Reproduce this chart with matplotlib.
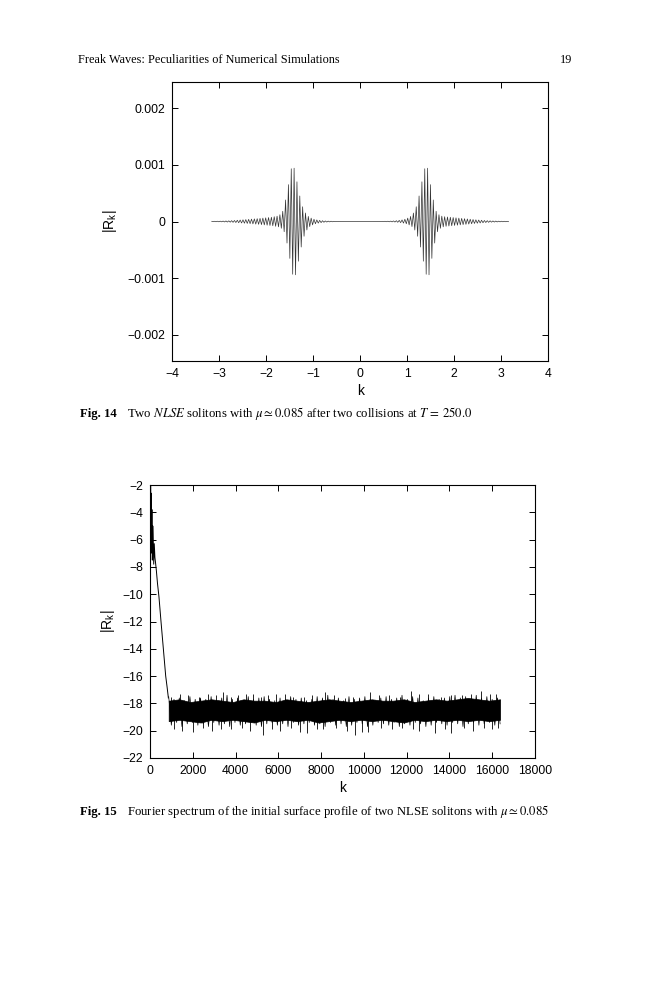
import numpy as np
import matplotlib
matplotlib.use('Agg')
import matplotlib.pyplot as plt
from matplotlib.ticker import FuncFormatter

plt.rcParams['font.family'] = ['Liberation Sans', 'DejaVu Sans']
plt.rcParams['mathtext.fontset'] = 'stix'

# Fig. 14: oscillation amplitude per carrier period (units of 1e-4), left packet / gap / right packet
left_amp = [0.03, 0.04, 0.05, 0.06, 0.08, 0.10, 0.12, 0.15, 0.18, 0.22,
            0.26, 0.30, 0.34, 0.38, 0.42, 0.46, 0.50, 0.55, 0.60, 0.65,
            0.70, 0.75, 0.85, 0.95, 1.2,
            1.8, 3.8, 6.5, 9.3, 9.4,
            7.0, 4.5, 2.6, 1.5, 0.9,
            0.6, 0.4, 0.28, 0.2, 0.14,
            0.1, 0.07, 0.05, 0.03, 0.02]
mid_amp = [0.02, 0.015, 0.01, 0.01, 0.01, 0.01, 0.01, 0.01, 0.01, 0.01, 0.01, 0.01, 0.015, 0.02]
right_amp = [0.02, 0.03, 0.04, 0.05, 0.07, 0.1, 0.14, 0.2, 0.28, 0.4, 0.6, 0.9,
             1.5, 2.6, 4.5, 7.0, 9.3, 9.4,
             6.5, 3.8, 1.8, 1.2, 0.95, 0.85, 0.8, 0.75, 0.7, 0.65, 0.6, 0.55,
             0.5, 0.45, 0.4, 0.35, 0.3, 0.26, 0.22, 0.18, 0.15, 0.12, 0.1, 0.08,
             0.06, 0.05, 0.04, 0.03]
k_min, k_max = -3.14, 3.14

# Fig. 15: initial decay, then noisy floor (solid core, fuzzy edges, spikes)
decline_k = [0, 15, 30, 45, 60, 75, 90, 110, 130, 150, 175, 200, 230, 260, 300, 350, 420, 515, 625, 735, 800, 860]
decline_v = [-2.1, -6.5, -2.0, -7.0, -2.6, -6.8, -3.8, -7.5, -5.0, -6.0, -7.8, -6.3, -7.3, -7.7,
             -8.3, -9.2, -10.2, -12.0, -14.0, -16.0, -16.8, -17.6]
band_k0, band_k1 = 875, 16375
core_hi = [-17.8, -17.7, -17.9, -17.8, -17.7, -17.8, -17.9, -17.7, -17.8, -17.8,
           -17.9, -17.7, -17.8, -17.9, -17.8, -17.7, -17.8, -17.9, -17.8, -17.7,
           -17.8, -17.8, -17.7, -17.9, -17.8, -17.7, -17.8, -17.7, -17.6, -17.7,
           -17.8, -17.7]
core_lo = [-19.3, -19.2, -19.3, -19.4, -19.2, -19.3, -19.2, -19.3, -19.4, -19.2,
           -19.3, -19.2, -19.3, -19.2, -19.4, -19.3, -19.2, -19.3, -19.2, -19.3,
           -19.2, -19.3, -19.4, -19.2, -19.3, -19.2, -19.3, -19.2, -19.3, -19.2,
           -19.3, -19.2]
band_hi = [-17.5, -17.7, -17.6, -17.8, -17.5, -17.7, -17.6, -17.7, -17.5, -17.8,
           -17.6, -17.4, -17.7, -17.6, -17.8, -17.5, -17.7, -17.6, -17.5, -17.7,
           -17.8, -17.6, -17.7, -17.5, -17.7, -17.6, -17.8, -17.7, -17.5, -17.6,
           -17.4, -17.7, -17.6, -17.8, -17.5, -17.7, -17.6, -17.5, -17.7, -17.8,
           -17.6, -17.5, -17.7, -17.6, -17.4, -17.7, -17.5, -17.6, -17.8, -17.6,
           -17.5, -17.7, -17.6, -17.5, -17.4, -17.6, -17.5, -17.7, -17.4, -17.6,
           -17.5, -17.7, -17.6]
band_lo = [-19.6, -19.4, -19.7, -19.5, -19.4, -19.6, -19.5, -19.7, -19.4, -19.6,
           -19.5, -19.7, -19.4, -19.6, -19.5, -19.4, -19.6, -19.7, -19.5, -19.4,
           -19.6, -19.5, -19.7, -19.4, -19.6, -19.5, -19.4, -19.6, -19.5, -19.7,
           -19.4, -19.6, -19.5, -19.7, -19.6, -19.4, -19.5, -19.7, -19.6, -19.4,
           -19.5, -19.6, -19.4, -19.7, -19.5, -19.6, -19.4, -19.5, -19.7, -19.6,
           -19.4, -19.5, -19.6, -19.4, -19.5, -19.7, -19.5, -19.4, -19.6, -19.5,
           -19.4, -19.6, -19.5]
up_k = [1000, 1400, 1800, 2300, 2700, 3100, 3400, 3800, 4100, 4500, 4800, 5200, 5500, 5900, 6300, 6700,
        7200, 7600, 8200, 8600, 9100, 9500, 10300, 10700, 11200, 11700, 12200, 12600, 13000, 13600,
        14100, 14600, 15000, 15500, 15900, 16200]
up_v = [-17.5, -17.3, -17.4, -17.5, -17.3, -17.4, -17.2, -17.5, -17.4, -17.3,
        -17.3, -17.5, -17.4, -17.3, -17.3, -17.5, -17.5, -17.4, -17.2, -17.4,
        -17.6, -17.5, -17.2, -17.4, -17.4, -17.5, -17.1, -17.3, -17.3, -17.5,
        -17.4, -17.4, -17.3, -17.1, -17.3, -17.3]
dn_k = [1100, 1500, 2000, 2500, 2900, 3300, 3800, 4300, 4700, 5300, 5700, 6100, 6600, 7000, 7350, 7800,
        8100, 8700, 9200, 9600, 9900, 10200, 10800, 11300, 11800, 12300, 12600, 13350, 13800, 14100,
        14700, 15130, 15600, 16000, 16300]
dn_v = [-19.9, -20.0, -20.1, -19.8, -20.0, -19.9, -19.9, -19.8, -20.0, -20.3,
        -19.9, -20.0, -19.8, -20.1, -20.2, -19.9, -19.9, -19.8, -20.0, -20.3,
        -20.1, -20.1, -19.8, -19.9, -19.8, -19.9, -20.0, -20.2, -19.9, -20.2,
        -19.8, -20.0, -19.8, -19.9, -19.8]
band_mid = -18.5


def style_axes(ax):
    ax.tick_params(direction='in', top=True, right=True, length=4, width=0.7,
                   labelsize=8.7, pad=5)
    for s in ax.spines.values():
        s.set_linewidth(0.8)


fig = plt.figure(figsize=(6.59, 10), dpi=100)
serif = ['Liberation Serif', 'DejaVu Serif']
cap_size = 9.2

# header
fig.text(0.118, 0.940, 'Freak Waves: Peculiarities of Numerical Simulations',
         family=serif, fontsize=8.8, va='center')
fig.text(0.868, 0.940, '19', family=serif, fontsize=8.8, va='center', ha='right')

# ---- Fig. 14 ----
ax1 = fig.add_axes([0.261, 0.639, 0.571, 0.279])
amp = np.concatenate([left_amp, mid_amp, right_amp]) * 1e-4
centers = np.linspace(k_min, k_max, len(amp))
p = centers[1] - centers[0]
kx = np.column_stack([centers - p / 4, centers + p / 4]).ravel()
ry = np.column_stack([amp, -amp]).ravel()
ax1.plot(kx, ry, color='#333333', lw=0.5)
ax1.set_xlim(-4, 4)
ax1.set_ylim(-0.00246, 0.00246)
ax1.set_xticks(np.arange(-4, 5, 1))
ax1.set_yticks([-0.002, -0.001, 0, 0.001, 0.002])
ax1.yaxis.set_major_formatter(FuncFormatter(lambda v, _: f'{v:g}'.replace('-', '\u2212')))
ax1.set_xlabel('k', fontsize=10, labelpad=3)
ax1.set_ylabel(r'$\mathregular{|R_k|}$', fontsize=10, labelpad=6)
style_axes(ax1)

fig.text(0.121, 0.586, 'Fig. 14', family=serif, fontsize=cap_size, weight='bold', va='center')
fig.text(0.192, 0.586, r'Two $\mathit{NLSE}$ solitons with $\mu \simeq 0.085$ after two collisions at $T\,=\,250.0$',
         family=serif, fontsize=cap_size, va='center')

# ---- Fig. 15 ----
ax2 = fig.add_axes([0.2276, 0.242, 0.584, 0.273])
ax2.plot(decline_k, decline_v, color='black', lw=0.7)
ck = np.linspace(band_k0, band_k1, len(core_hi))
ax2.fill_between(ck, core_lo, core_hi, color='black', lw=0.5, edgecolor='black')
zk = np.linspace(band_k0, band_k1, 2 * len(band_hi))
zv = np.column_stack([band_hi, band_lo]).ravel()
ax2.plot(zk, zv, color='black', lw=0.5)
ax2.vlines(up_k, band_mid, up_v, color='black', lw=0.6)
ax2.vlines(dn_k, band_mid, dn_v, color='black', lw=0.6)
ax2.set_xlim(0, 18000)
ax2.set_ylim(-22, -2)
ax2.set_xticks(np.arange(0, 18001, 2000))
ax2.set_yticks(np.arange(-22, -1, 2))
ax2.set_xlabel('k', fontsize=10, labelpad=3)
ax2.set_ylabel(r'$\mathregular{|R_k|}$', fontsize=10, labelpad=4)
style_axes(ax2)

fig.text(0.121, 0.188, 'Fig. 15', family=serif, fontsize=cap_size, weight='bold', va='center')
fig.text(0.192, 0.188, r'Fourier spectrum of the initial surface profile of two NLSE solitons with $\mu \simeq 0.085$',
         family=serif, fontsize=cap_size, va='center')

fig.savefig('out.png', dpi=100)
